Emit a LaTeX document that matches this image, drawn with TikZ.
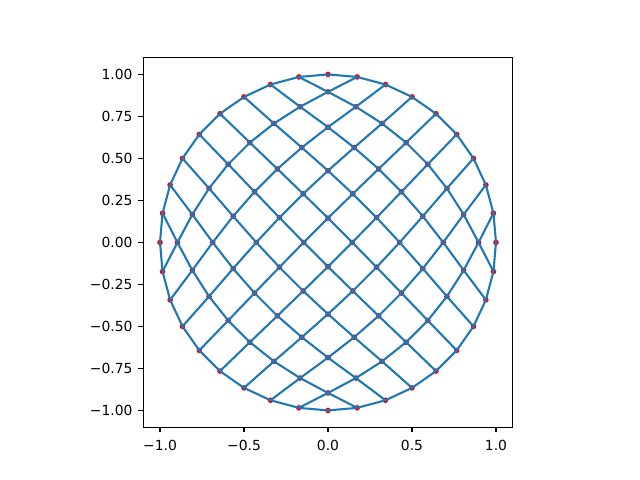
\documentclass[tikz,border=0pt]{standalone}
\usepackage{fontspec}
\setmainfont{DejaVu Sans}
\definecolor{mplblue}{HTML}{1F77B4}
\definecolor{mplred}{HTML}{FF0000}
\newcommand\PX[2]{(\csname px@\the\numexpr#1\relax @\the\numexpr#2\relax\endcsname)}
\newcommand\PY[2]{(\csname py@\the\numexpr#1\relax @\the\numexpr#2\relax\endcsname)}
\newcommand\SetP[4]{\expandafter\xdef\csname p#1@#2@#3\endcsname{#4}}
\tikzset{
  mesh/.style={draw=mplblue, line width=1.5pt, line join=round, line cap=round},
  vdot/.style={fill=mplred, draw=mplred, line width=1pt},
  axframe/.style={draw=black, line width=0.8pt},
  axtick/.style={draw=black, line width=0.8pt},
  ticklabel/.style={inner sep=0pt, font=\fontsize{10}{12}\selectfont},
}
\begin{document}
\begin{tikzpicture}[x=120.96pt,y=120.96pt]
\useasboundingbox (-1.952381,-1.414286) rectangle (1.857143,1.442857);
% initial values
\foreach \i in {0,...,9}{\foreach \j in {0,...,9}{\SetP{x}{\i}{\j}{0}\SetP{y}{\i}{\j}{0}}}
% boundary on the unit circle, every 10 degrees
\foreach \k in {0,...,9}{%
 \SetP{x}{0}{\k}{\fpeval{cosd(90-10*\k)}}\SetP{y}{0}{\k}{\fpeval{sind(90-10*\k)}}%
 \SetP{x}{\k}{0}{\fpeval{cosd(90+10*\k)}}\SetP{y}{\k}{0}{\fpeval{sind(90+10*\k)}}%
 \SetP{x}{9}{\k}{\fpeval{cosd(180+10*\k)}}\SetP{y}{9}{\k}{\fpeval{sind(180+10*\k)}}%
 \SetP{x}{\k}{9}{\fpeval{cosd(-10*\k)}}\SetP{y}{\k}{9}{\fpeval{sind(-10*\k)}}%
}
% harmonic interior (SOR)
\foreach \n in {1,...,60}{\foreach \i in {1,...,8}{\foreach \j in {1,...,8}{%
 \SetP{x}{\i}{\j}{\fpeval{-0.5*\PX{\i}{\j}+0.375*(\PX{\i-1}{\j}+\PX{\i+1}{\j}+\PX{\i}{\j-1}+\PX{\i}{\j+1})}}%
 \SetP{y}{\i}{\j}{\fpeval{-0.5*\PY{\i}{\j}+0.375*(\PY{\i-1}{\j}+\PY{\i+1}{\j}+\PY{\i}{\j-1}+\PY{\i}{\j+1})}}%
}}}
% named vertices
\foreach \i in {0,...,9}{\foreach \j in {0,...,9}{%
 \edef\cx{\fpeval{round(\PX{\i}{\j},5)}}\edef\cy{\fpeval{round(\PY{\i}{\j},5)}}%
 \coordinate (p-\i-\j) at (\cx,\cy);
}}
% vertex dots
\foreach \i in {0,...,9}{\foreach \j in {0,...,9}{\path[vdot] (p-\i-\j) circle (1.5pt);}}
% mesh lines
\foreach \i in {0,...,9}{\draw[mesh] (p-\i-0) \foreach \j in {1,...,9}{-- (p-\i-\j)};}
\foreach \j in {0,...,9}{\draw[mesh] (p-0-\j) \foreach \i in {1,...,9}{-- (p-\i-\j)};}
% axes ticks and labels
\foreach \v/\t [count=\c] in {-1/−1.0,-0.5/−0.5,0/0.0,0.5/0.5,1/1.0}{
  \draw[axtick] (\v,-1.1) -- ++(0,-3.5pt);
  \node[ticklabel, anchor=north] (xl\c) at ([yshift=-9pt]\v,-1.1) {\t};
}
\foreach \v/\t [count=\c] in {-1/−1.00,-0.75/−0.75,-0.5/−0.50,-0.25/−0.25,0/0.00,0.25/0.25,0.5/0.50,0.75/0.75,1/1.00}{
  \draw[axtick] (-1.1,\v) -- ++(-3.5pt,0);
  \node[ticklabel, anchor=east] (yl\c) at ([xshift=-7.5pt]-1.1,\v) {\t};
}
\draw[axframe] (-1.1,-1.1) rectangle (1.1,1.1);
\end{tikzpicture}
\end{document}
